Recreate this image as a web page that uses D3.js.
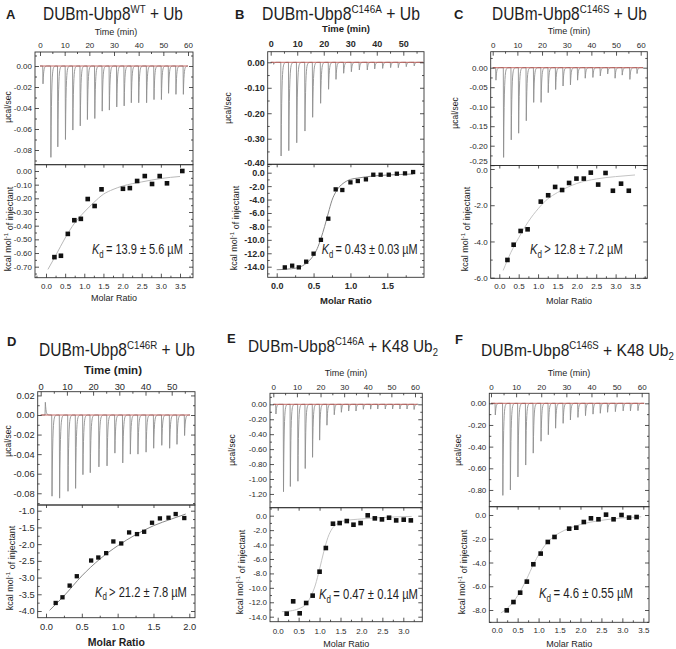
<!DOCTYPE html>
<html><head><meta charset="utf-8">
<script src="https://cdn.jsdelivr.net/npm/d3@7"></script>
<style>body{margin:0;background:#fff}svg{display:block}</style>
</head><body>
<svg id="c" width="676" height="649"></svg>
<script>
// ---------------- DATA ----------------
// Panel A: DUBm-Ubp8 WT + Ub
const timeA  = [1.1,4.3,7.1,10.2,13.2,16.2,19.1,22.1,25.1,28.0,31.0,34.0,36.9,39.9,43.1,46.1,49.1,52.0,55.0,58.0];
const powerA = [-0.017,-0.087,-0.077,-0.070,-0.061,-0.057,-0.051,-0.050,-0.043,-0.042,-0.039,-0.038,-0.035,-0.035,-0.035,-0.032,-0.032,-0.026,-0.027,-0.027];
const ratioA = [0.22,0.39,0.57,0.74,0.91,1.09,1.27,1.45,2.01,2.19,2.38,2.58,2.77,2.97,3.16,3.56];
const heatA  = [-0.63,-0.62,-0.46,-0.36,-0.35,-0.205,-0.256,-0.134,-0.13,-0.125,-0.073,-0.037,-0.095,-0.037,-0.09,0.0];
const fitRatioA = [0.05,0.25,0.5,0.75,1.0,1.25,1.5,1.75,2.0,2.5,3.0,3.5];
const fitHeatA  = [-0.72,-0.62,-0.49,-0.38,-0.30,-0.23,-0.17,-0.135,-0.11,-0.08,-0.055,-0.04];
const tTicksA = [0,10,20,30,40,50,60];
const ytTicksA = [0,-0.02,-0.04,-0.06,-0.08];
const ybTicksA = [0,-0.1,-0.2,-0.3,-0.4,-0.5,-0.6,-0.7];
const xTicksA = [0,0.5,1,1.5,2,2.5,3,3.5];

// Panel B: C146A + Ub
const timeB  = [1.0,3.8,6.7,9.7,12.8,15.7,18.7,21.7,24.5,27.4,30.3,33.3,36.3,39.1,42.1,45.1,48.0,51.0,54.0];
const powerB = [-0.008,-0.368,-0.347,-0.316,-0.270,-0.216,-0.161,-0.106,-0.067,-0.043,-0.037,-0.030,-0.030,-0.026,-0.024,-0.021,-0.021,-0.017,-0.014];
const ratioB = [0.11,0.21,0.30,0.40,0.50,0.60,0.70,0.80,0.89,1.00,1.10,1.21,1.31,1.41,1.52,1.63,1.74,1.85];
const heatB  = [-14.1,-13.85,-14.1,-13.25,-12.06,-10.0,-6.85,-2.48,-2.58,-1.44,-1.24,-0.99,-0.30,-0.30,-0.30,-0.15,-0.10,0.10];
const fitRatioB = [0.0,0.2,0.3,0.4,0.5,0.55,0.6,0.65,0.7,0.75,0.8,0.85,0.9,1.0,1.1,1.3,1.5,1.85];
const fitHeatB  = [-14.45,-14.3,-14.1,-13.5,-12.3,-11.3,-9.8,-8.0,-6.0,-4.1,-2.9,-2.1,-1.6,-1.0,-0.8,-0.5,-0.35,-0.2];
const tTicksB = [0,10,20,30,40,50];
const ytTicksB = [0,-0.1,-0.2,-0.3,-0.4];
const ybTicksB = [0,-2,-4,-6,-8,-10,-12,-14];
const xTicksB = [0,0.5,1,1.5];

// Panel C: C146S + Ub
const timeC  = [1.2,4.3,7.4,10.4,13.5,16.5,19.5,22.4,25.4,28.4,31.4,34.3,37.4,40.5,43.5,46.5,49.5,52.4,55.5,58.4];
const powerC = [-0.032,-0.23,-0.185,-0.168,-0.136,-0.089,-0.089,-0.064,-0.056,-0.047,-0.044,-0.032,-0.027,-0.025,-0.021,-0.016,-0.027,-0.019,-0.030,-0.015];
const ratioC = [0.21,0.37,0.55,0.73,1.07,1.26,1.44,1.62,1.80,1.99,2.18,2.36,2.55,2.74,2.93,3.14,3.34];
const heatC  = [-5.02,-4.18,-3.42,-3.33,-1.80,-1.45,-0.99,-1.16,-0.77,-0.53,-0.53,-0.20,-0.86,-0.22,-1.20,-0.81,-1.20];
const fitRatioC = [0.1,0.3,0.5,0.75,1.0,1.25,1.5,2.0,2.5,3.0,3.5];
const fitHeatC  = [-5.6,-4.6,-3.8,-2.9,-2.2,-1.65,-1.3,-0.8,-0.55,-0.42,-0.33];
const tTicksC = [0,10,20,30,40,50,60];
const ytTicksC = [0,-0.05,-0.1,-0.15,-0.2,-0.25];
const ybTicksC = [0,-2,-4,-6];
const xTicksC = [0,0.5,1,1.5,2,2.5,3,3.5];

// Panel D: C146R + Ub
const timeD  = [1.65,4.2,7.1,10.3,13.2,16.0,18.8,22.1,25.2,28.2,31.2,34.1,37.0,40.1,43.0,46.1,49.1,51.9,54.8];
const powerD = [0.013,-0.083,-0.085,-0.078,-0.075,-0.061,-0.059,-0.053,-0.052,-0.039,-0.049,-0.040,-0.040,-0.038,-0.034,-0.031,-0.034,-0.030,-0.021];
const ratioD = [0.135,0.23,0.33,0.43,0.63,0.73,0.84,0.94,1.05,1.16,1.27,1.37,1.48,1.59,1.71,1.81,1.93];
const heatD  = [-3.76,-3.59,-3.24,-2.96,-2.49,-2.40,-2.27,-1.92,-1.98,-1.65,-1.70,-1.63,-1.36,-1.23,-1.21,-1.10,-1.22];
const fitRatioD = [0.05,0.25,0.5,0.75,1.0,1.25,1.5,1.75,1.95];
const fitHeatD  = [-3.98,-3.55,-2.95,-2.45,-2.05,-1.72,-1.45,-1.25,-1.1];
const tTicksD = [0,10,20,30,40,50];
const ytTicksD = [0.02,0,-0.02,-0.04,-0.06,-0.08];
const ybTicksD = [-1,-1.5,-2,-2.5,-3,-3.5,-4];
const xTicksD = [0,0.5,1,1.5,2];

// Panel E: C146A + K48 Ub2
const timeE  = [1.0,4.2,7.1,10.3,13.4,16.5,19.5,22.6,25.7,28.7,31.8,34.9,38.0,41.1,44.1,47.3,50.4,53.5,56.5,59.5];
const powerE = [-0.13,-1.17,-1.10,-1.03,-0.86,-0.71,-0.48,-0.28,-0.14,-0.107,-0.09,-0.09,-0.067,-0.065,-0.063,-0.063,-0.063,-0.063,-0.063,-0.07];
const ratioE = [0.215,0.37,0.525,0.68,0.835,1.0,1.15,1.32,1.48,1.65,1.81,1.98,2.15,2.32,2.49,2.66,2.83,3.01,3.18];
const heatE  = [-13.58,-11.87,-13.53,-12.1,-11.08,-7.76,-4.48,-1.11,-1.02,-0.74,-1.25,-1.02,0.05,-0.37,-0.51,-0.28,-0.65,-0.55,-0.65];
const fitRatioE = [0.1,0.3,0.5,0.7,0.8,0.9,1.0,1.1,1.2,1.3,1.4,1.6,2.0,2.5,3.2];
const fitHeatE  = [-13.3,-13.2,-12.9,-12.1,-11.1,-9.6,-7.4,-5.0,-3.0,-1.8,-1.2,-0.7,-0.45,-0.25,-0.1];
const tTicksE = [0,10,20,30,40,50,60];
const ytTicksE = [0,-0.2,-0.4,-0.6,-0.8,-1.0,-1.2];
const ybTicksE = [0,-2,-4,-6,-8,-10,-12,-14];
const xTicksE = [0,0.5,1,1.5,2,2.5,3];

// Panel F: C146S + K48 Ub2
const timeF  = [1.6,4.6,7.6,10.6,13.7,16.7,19.8,22.7,25.6,28.6,31.5,34.5,37.5,40.5,43.4,46.3,49.4,52.5,55.4,58.4];
const powerF = [-0.108,-0.85,-0.80,-0.68,-0.57,-0.46,-0.35,-0.29,-0.23,-0.185,-0.154,-0.13,-0.114,-0.10,-0.092,-0.083,-0.077,-0.07,-0.07,-0.068];
const ratioF = [0.24,0.40,0.56,0.72,0.875,1.05,1.22,1.38,1.73,1.90,2.08,2.25,2.43,2.61,2.79,2.98,3.16,3.34];
const heatF  = [-8.03,-7.33,-6.54,-5.61,-4.15,-3.25,-2.27,-1.85,-1.15,-1.07,-0.59,-0.28,-0.36,0.03,-0.36,0.0,-0.22,-0.17];
const fitRatioF = [0.1,0.3,0.5,0.7,0.9,1.1,1.3,1.5,1.75,2.0,2.5,3.0,3.45];
const fitHeatF  = [-8.25,-7.7,-6.8,-5.5,-4.0,-2.8,-2.0,-1.5,-1.1,-0.8,-0.45,-0.25,-0.15];
const tTicksF = [0,10,20,30,40,50,60];
const ytTicksF = [0,-0.2,-0.4,-0.6,-0.8];
const ybTicksF = [0,-2,-4,-6,-8];
const xTicksF = [0,0.5,1,1.5,2,2.5,3,3.5];

const kdTexts = ["= 13.9 \u00b1 5.6 \u00b5M","= 0.43 \u00b1 0.03 \u00b5M","> 12.8 \u00b1 7.2 \u00b5M",
                 "> 21.2 \u00b1 7.8 \u00b5M","= 0.47 \u00b1 0.14 \u00b5M","= 4.6 \u00b1 0.55 \u00b5M"];
const titleSup = ["WT","C146A","C146S","C146R","C146A","C146S"];
const titleRest = ["+ Ub","+ Ub","+ Ub","+ Ub","+ K48 Ub","+ K48 Ub"];

// ---------------- LAYOUT ----------------
const FONT = "'Liberation Sans', Arial, Helvetica, sans-serif";
const panels = [
 {id:'A', time:timeA, power:powerA, ratio:ratioA, heat:heatA, fr:fitRatioA, fh:fitHeatA,
  tT:tTicksA, ytT:ytTicksA, ybT:ybTicksA, xT:xTicksA, kd:kdTexts[0], sup:titleSup[0], rest:titleRest[0], sub:'',
  L:35,R:193,T:52,M:164.7,B:277.7, t:[0,60,40,188], yt:[0,-0.08,66,150], yb:[0,-0.7,171,266.7], x:[0,3.5,46,180],
  tEnd:60, mn:{t:5,yt:0.01,yb:0.05,x:0.25}, dec:{yt:2,yb:2},
  letter:[6,19], titlePos:[43,20,140], titleFs:17.5, supFs:11,
  fsTick:8, bold:false, fsLab:9, boldLab:false, timeLab:[116,32], tPad:4.2, xPad:5.5, molY:298,
  yl1:[8,107], yl2:[8,229], kdPos:[92,254,91], fitCol:'#b8b8b8', ms:4.6},
 {id:'B', time:timeB, power:powerB, ratio:ratioB, heat:heatB, fr:fitRatioB, fh:fitHeatB,
  tT:tTicksB, ytT:ytTicksB, ybT:ybTicksB, xT:xTicksB, kd:kdTexts[1], sup:titleSup[1], rest:titleRest[1], sub:'',
  L:267.7,R:424,T:51.7,M:164.3,B:277.3, t:[0,50,270.7,403.3], yt:[0,-0.3,62.3,138.7], yb:[0,-14,172.7,266.7], x:[0,1.5,276.7,387.3],
  tEnd:57.5, mn:{t:5,yt:0.05,yb:1,x:0.25}, dec:{yt:2,yb:1},
  letter:[235,19], titlePos:[262,20,158], titleFs:17.5, supFs:11,
  fsTick:9, bold:true, fsLab:9.5, boldLab:true, timeLab:[346,29], tPad:5.2, xPad:5.5, molY:301,
  yl1:[228,108], yl2:[234,228], kdPos:[321.7,254,96], fitCol:'#888', ms:4.3},
 {id:'C', time:timeC, power:powerC, ratio:ratioC, heat:heatC, fr:fitRatioC, fh:fitHeatC,
  tT:tTicksC, ytT:ytTicksC, ybT:ybTicksC, xT:xTicksC, kd:kdTexts[2], sup:titleSup[2], rest:titleRest[2], sub:'',
  L:490.7,R:647.3,T:51.7,M:165.5,B:278.3, t:[0,60,492.7,640.7], yt:[0,-0.2,67.7,145.7], yb:[0,-6,169,277.7], x:[0,3.5,499.3,635],
  tEnd:61, mn:{t:5,yt:0.025,yb:1,x:0.25}, dec:{yt:2,yb:1},
  letter:[454,19], titlePos:[492,20,155], titleFs:17.5, supFs:11,
  fsTick:8, bold:false, fsLab:9, boldLab:false, timeLab:[569,31], tPad:4.2, xPad:5.5, molY:301,
  yl1:[455,113], yl2:[465,229], kdPos:[530,254,93], fitCol:'#c4c4c4', ms:4.6},
 {id:'D', time:timeD, power:powerD, ratio:ratioD, heat:heatD, fr:fitRatioD, fh:fitHeatD,
  tT:tTicksD, ytT:ytTicksD, ybT:ybTicksD, xT:xTicksD, kd:kdTexts[3], sup:titleSup[3], rest:titleRest[3], sub:'',
  L:37.7,R:195,T:391.7,M:505,B:617.7, t:[0,50,40.7,171.7], yt:[0,-0.06,415,473.7], yb:[-1,-4,510.7,611], x:[0,2,46,189.3],
  tEnd:57, mn:{t:5,yt:0.01,yb:0.25,x:0.25}, dec:{yt:2,yb:1},
  letter:[7,346], titlePos:[39,356,156], titleFs:17.5, supFs:11,
  fsTick:9.3, bold:false, fsLab:11.5, boldLab:true, molFs:10.5, timeLab:[113,370], tPad:2, xPad:5.5, molY:642.7,
  yl1:[8,441], yl2:[10,568], kdPos:[95,596.7,92], fitCol:'#888', ms:4.3},
 {id:'E', time:timeE, power:powerE, ratio:ratioE, heat:heatE, fr:fitRatioE, fh:fitHeatE,
  tT:tTicksE, ytT:ytTicksE, ybT:ybTicksE, xT:xTicksE, kd:kdTexts[4], sup:titleSup[4], rest:titleRest[4], sub:'2',
  L:270,R:422.3,T:393.3,M:507.7,B:621.7, t:[0,60,273.3,415], yt:[0,-1.0,404.3,479], yb:[0,-14,515.7,616.7], x:[0,3,277.7,403.3],
  tEnd:61, mn:{t:5,yt:0.1,yb:1,x:0.25}, dec:{yt:2,yb:1},
  letter:[227,343], titlePos:[248,352,190], titleFs:17, supFs:10.5,
  fsTick:8, bold:false, fsLab:9, boldLab:false, timeLab:[346,373], tPad:3.3, xPad:6.3, molY:644,
  yl1:[232,450], yl2:[240,572], kdPos:[319,599.3,99], fitCol:'#c4c4c4', ms:4.6},
 {id:'F', time:timeF, power:powerF, ratio:ratioF, heat:heatF, fr:fitRatioF, fh:fitHeatF,
  tT:tTicksF, ytT:ytTicksF, ybT:ybTicksF, xT:xTicksF, kd:kdTexts[5], sup:titleSup[5], rest:titleRest[5], sub:'2',
  L:489.3,R:649,T:393.3,M:506.7,B:622.3, t:[0,60,491,641.7], yt:[0,-0.6,403.3,468.3], yb:[0,-8,515,610], x:[0,3.5,496.7,643.3],
  tEnd:61, mn:{t:5,yt:0.1,yb:1,x:0.25}, dec:{yt:2,yb:1},
  letter:[455,344], titlePos:[481,356,193], titleFs:17, supFs:10.5,
  fsTick:8, bold:false, fsLab:9, boldLab:false, timeLab:[569,373], tPad:3.3, xPad:5.5, molY:644,
  yl1:[458,450], yl2:[462,572], kdPos:[539,598,94], fitCol:'#c4c4c4', ms:4.6}
];

// ---------------- DRAW ----------------
const svg = d3.select('#c');
svg.append('rect').attr('width',676).attr('height',649).attr('fill','#fff');
const defs = svg.append('defs');
const fmt = n => v => (Math.abs(v) < 1e-9 ? 0 : v).toFixed(n);

function minorVals(dom, step, majors){
  const lo = Math.min(dom[0],dom[1]), hi = Math.max(dom[0],dom[1]);
  const out = [];
  for (let k = Math.ceil(lo/step - 1e-6); k*step <= hi + 1e-9; k++) {
    const v = +(k*step).toFixed(6);
    if (!majors.some(m => Math.abs(m - v) < step*0.01)) out.push(v);
  }
  return out;
}

function tracePoints(times, powers, tEnd){
  const pts = [[0,0]];
  times.forEach((t0,i) => {
    const d = powers[i];
    pts.push([t0,0]);
    pts.push([t0+0.12,d]);
    for (let k=1;k<=16;k++){ const dt=k*0.11; pts.push([t0+0.12+dt, d*Math.exp(-dt/0.27)]); }
  });
  pts.push([tEnd,0]);
  return pts;
}

function styleAxis(sel, P, showText){
  sel.select('.domain').remove();
  sel.attr('font-family', FONT).attr('font-size', P.fsTick)
     .attr('font-weight', P.bold ? 'bold' : 'normal').attr('color','#2a2a2a');
  sel.selectAll('line').attr('stroke-width',0.8);
  if (!showText) sel.selectAll('text').remove();
}

function fitWidth(sel, x, y, target){
  const w = sel.node().getComputedTextLength() || target;
  const sx = Math.min(1.15, target / w);
  sel.attr('transform',`translate(${x},${y}) scale(${sx},1)`);
}

function panel(P){
  const g = svg.append('g').attr('font-family',FONT).attr('fill','#1e1e1e');
  const tx = d3.scaleLinear().domain([P.t[0],P.t[1]]).range([P.t[2],P.t[3]]);
  const yT = d3.scaleLinear().domain([P.yt[0],P.yt[1]]).range([P.yt[2],P.yt[3]]);
  const yB = d3.scaleLinear().domain([P.yb[0],P.yb[1]]).range([P.yb[2],P.yb[3]]);
  const xB = d3.scaleLinear().domain([P.x[0],P.x[1]]).range([P.x[2],P.x[3]]);

  defs.append('clipPath').attr('id','ct'+P.id).append('rect')
    .attr('x',P.L).attr('y',P.T).attr('width',P.R-P.L).attr('height',P.M-P.T);
  defs.append('clipPath').attr('id','cb'+P.id).append('rect')
    .attr('x',P.L).attr('y',P.M).attr('width',P.R-P.L).attr('height',P.B-P.M);

  // raw thermogram
  const pts = tracePoints(P.time, P.power, P.tEnd);
  g.append('path').attr('clip-path',`url(#ct${P.id})`)
    .attr('d', d3.line().x(d=>tx(d[0])).y(d=>yT(d[1]))(pts))
    .attr('fill','none').attr('stroke','#8e8e8e').attr('stroke-width',0.9);
  g.append('path').attr('clip-path',`url(#ct${P.id})`)
    .attr('d', d3.line().x(d=>tx(d[0])).y(d=>yT(d[1]))([[0,0],[P.tEnd,0]]))
    .attr('fill','none').attr('stroke','#b8433c').attr('stroke-width',0.8);

  // fit + points
  g.append('path').attr('clip-path',`url(#cb${P.id})`)
    .attr('d', d3.line().curve(d3.curveMonotoneX).x(d=>xB(d[0])).y(d=>yB(d[1]))(d3.zip(P.fr,P.fh)))
    .attr('fill','none').attr('stroke',P.fitCol).attr('stroke-width',1);
  g.append('g').selectAll('rect').data(d3.zip(P.ratio,P.heat)).join('rect')
    .attr('x',d=>xB(d[0])-P.ms/2).attr('y',d=>yB(d[1])-P.ms/2)
    .attr('width',P.ms).attr('height',P.ms).attr('fill','#111');

  // boxes
  [[P.T,P.M],[P.M,P.B]].forEach(([a,b]) => {
    g.append('rect').attr('x',P.L).attr('y',a).attr('width',P.R-P.L).attr('height',b-a)
      .attr('fill','none').attr('stroke','#333').attr('stroke-width',0.9);
  });

  const tDom = [tx.invert(P.L), tx.invert(P.R)];
  const ytDom = [yT.invert(P.M), yT.invert(P.T)];
  const ybDom = [yB.invert(P.B), yB.invert(P.M)];
  const xDom = [xB.invert(P.L), xB.invert(P.R)];

  // top time axis
  g.append('g').attr('transform',`translate(0,${P.T})`)
    .call(d3.axisTop(tx).tickValues(P.tT).tickFormat(d3.format('d')).tickSize(-4).tickPadding(P.tPad))
    .call(s=>styleAxis(s,P,true));
  g.append('g').attr('transform',`translate(0,${P.T})`)
    .call(d3.axisTop(tx).tickValues(minorVals(tDom,P.mn.t,P.tT)).tickFormat('').tickSize(-2))
    .call(s=>styleAxis(s,P,false));
  // top panel left/right
  const leftTop = g.append('g').attr('transform',`translate(${P.L},0)`)
    .call(d3.axisLeft(yT).tickValues(P.ytT).tickFormat(fmt(P.dec.yt)).tickSize(-4).tickPadding(3))
    .call(s=>styleAxis(s,P,true));
  g.append('g').attr('transform',`translate(${P.L},0)`)
    .call(d3.axisLeft(yT).tickValues(minorVals(ytDom,P.mn.yt,P.ytT)).tickFormat('').tickSize(-2))
    .call(s=>styleAxis(s,P,false));
  g.append('g').attr('transform',`translate(${P.R},0)`)
    .call(d3.axisRight(yT).tickValues(P.ytT).tickSize(-4))
    .call(s=>styleAxis(s,P,false));
  g.append('g').attr('transform',`translate(${P.R},0)`)
    .call(d3.axisRight(yT).tickValues(minorVals(ytDom,P.mn.yt,P.ytT)).tickSize(-2))
    .call(s=>styleAxis(s,P,false));
  // bottom panel left/right
  const leftBot = g.append('g').attr('transform',`translate(${P.L},0)`)
    .call(d3.axisLeft(yB).tickValues(P.ybT).tickFormat(fmt(P.dec.yb)).tickSize(-4).tickPadding(3))
    .call(s=>styleAxis(s,P,true));
  g.append('g').attr('transform',`translate(${P.L},0)`)
    .call(d3.axisLeft(yB).tickValues(minorVals(ybDom,P.mn.yb,P.ybT)).tickFormat('').tickSize(-2))
    .call(s=>styleAxis(s,P,false));
  g.append('g').attr('transform',`translate(${P.R},0)`)
    .call(d3.axisRight(yB).tickValues(P.ybT).tickSize(-4))
    .call(s=>styleAxis(s,P,false));
  g.append('g').attr('transform',`translate(${P.R},0)`)
    .call(d3.axisRight(yB).tickValues(minorVals(ybDom,P.mn.yb,P.ybT)).tickSize(-2))
    .call(s=>styleAxis(s,P,false));

  // where the lowest top-panel label and the highest bottom-panel label collide, nudge them apart
  const lastTop = P.ytT[P.ytT.length-1], firstBot = P.ybT[0];
  const gap = yB(firstBot) - yT(lastTop);
  if (gap < P.fsTick + 1) {
    const need = (P.fsTick + 1 - gap);
    leftTop.selectAll('.tick').filter(d => d === lastTop).select('text').attr('dy', `${0.32*P.fsTick - need*0.8}px`);
    leftBot.selectAll('.tick').filter(d => d === firstBot).select('text').attr('dy', `${0.32*P.fsTick + need*0.2}px`);
  }

  // bottom x axis
  g.append('g').attr('transform',`translate(0,${P.B})`)
    .call(d3.axisBottom(xB).tickValues(P.xT).tickFormat(fmt(1)).tickSize(-4).tickPadding(P.xPad))
    .call(s=>styleAxis(s,P,true));
  g.append('g').attr('transform',`translate(0,${P.B})`)
    .call(d3.axisBottom(xB).tickValues(minorVals(xDom,P.mn.x,P.xT)).tickFormat('').tickSize(-2))
    .call(s=>styleAxis(s,P,false));
  g.append('g').attr('transform',`translate(0,${P.M})`)
    .call(d3.axisTop(xB).tickValues(P.xT).tickSize(-3))
    .call(s=>styleAxis(s,P,false));

  // axis titles
  const lw = P.boldLab ? 'bold' : 'normal';
  g.append('text').attr('x',P.timeLab[0]).attr('y',P.timeLab[1]).attr('dy','0.35em')
    .attr('text-anchor','middle').attr('font-size',P.fsLab).attr('font-weight',lw).text('Time (min)');
  g.append('text').attr('x',(P.L+P.R)/2).attr('y',P.molY).attr('dy','0.35em')
    .attr('text-anchor','middle').attr('font-size',P.molFs||P.fsLab).attr('font-weight',lw).text('Molar Ratio');
  g.append('text').attr('transform',`translate(${P.yl1[0]},${P.yl1[1]}) rotate(-90)`).attr('dy','0.35em')
    .attr('text-anchor','middle').attr('font-size',8.5).text('\u00b5cal/sec');
  const kl = g.append('text').attr('transform',`translate(${P.yl2[0]},${P.yl2[1]}) rotate(-90)`).attr('dy','0.35em')
    .attr('text-anchor','middle').attr('font-size',9);
  kl.append('tspan').text('kcal mol');
  kl.append('tspan').attr('dy','-0.45em').attr('font-size',6).text('-1');
  kl.append('tspan').attr('dy','0.45em').text(' of injectant');

  // Kd (glyphs horizontally condensed to the measured width)
  const kt = g.append('text').attr('x',0).attr('y',0).attr('font-size',14);
  kt.append('tspan').attr('font-style','italic').text('K');
  kt.append('tspan').attr('dy',3.5).attr('font-size',10).text('d');
  kt.append('tspan').attr('dy',-3.5).text('\u2009' + P.kd);
  fitWidth(kt, P.kdPos[0], P.kdPos[1], P.kdPos[2]);

  // letter + title (single text element with super/subscript tspans)
  g.append('text').attr('x',P.letter[0]).attr('y',P.letter[1]).attr('font-size',13)
    .attr('font-weight','bold').text(P.id);
  const tt = g.append('text').attr('x',0).attr('y',0).attr('font-size',P.titleFs);
  tt.append('tspan').text('DUBm-Ubp8');
  tt.append('tspan').attr('dy',-7).attr('font-size',P.supFs).text(P.sup);
  tt.append('tspan').attr('dy',7).text('\u00a0' + P.rest);
  if (P.sub) tt.append('tspan').attr('dy',4).attr('font-size',10.5).text(P.sub);
  fitWidth(tt, P.titlePos[0], P.titlePos[1], P.titlePos[2]);
}

panels.forEach(panel);
</script>
</body></html>
